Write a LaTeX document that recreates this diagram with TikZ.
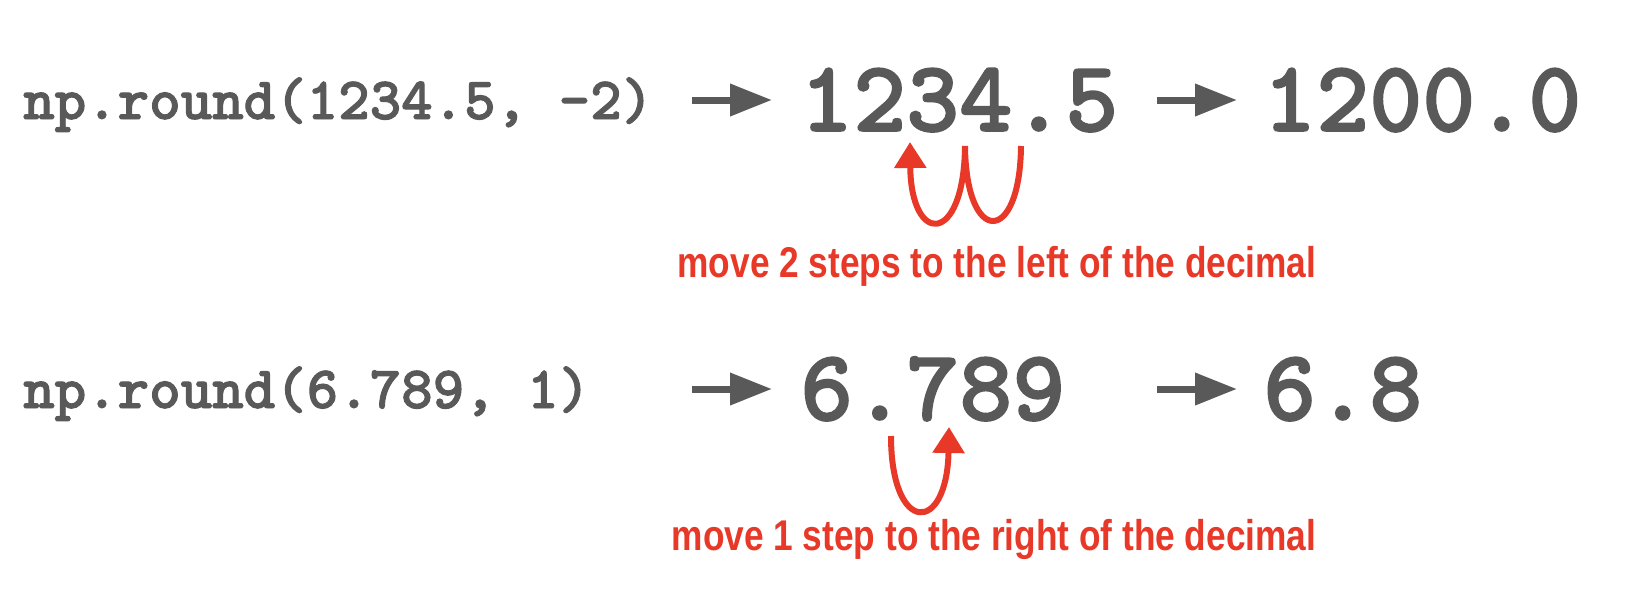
\documentclass[tikz,border=0pt]{standalone}
\usepackage{fontspec}
\usetikzlibrary{arrows.meta}
\newfontfamily\redfont{Liberation Sans}[FakeStretch=0.82]
\newfontfamily\codefont{lmmonolt10-bold.otf}[FakeBold=1.6]
\definecolor{txtgray}{RGB}{89,89,89}
\definecolor{redc}{RGB}{232,56,40}
\begin{document}
\begin{tikzpicture}[x=1pt,y=-1pt,
  code/.style={anchor=base west, inner sep=0pt, text=txtgray, font=\fontsize{60}{60}\selectfont\codefont},
  big/.style={anchor=base west, inner sep=0pt, text=txtgray, font=\fontsize{101}{101}\selectfont\codefont},
  note/.style={anchor=base, inner sep=0pt, text=redc, font=\fontsize{43}{43}\selectfont\redfont\bfseries},
  grayarrow/.style={draw=txtgray, line width=7pt, -{Triangle[length=42pt,width=31pt]}},
  redarrow/.style={draw=redc, line width=6pt, -{Triangle[length=26pt,width=31pt]}},
]
\useasboundingbox (0,0) rectangle (1626,608);
% row 1
\node[code] (c1) at (23,119) {np.round(1234.5, -2)};
\node[big] (n1) at (800,131) {1234.5};
\node[big] (r1) at (1263,131) {1200.0};
\coordinate (a1s) at (692,100);
\coordinate (a1e) at (772,100);
\coordinate (a2s) at (1157,100);
\coordinate (a2e) at (1237,100);
\draw[grayarrow] (a1s) -- (a1e);
\draw[grayarrow] (a2s) -- (a2e);
\coordinate (w1) at (1021,146);
\coordinate (w3) at (965,146);
\coordinate (w5) at (910,142);
\draw[redarrow] (w1) .. controls (1020,246) and (966,246) .. (w3)
  .. controls (964,246) and (911,246) .. (w5);
\node[note] (t1) at (997,277) {move 2 steps to the left of the decimal};
% row 2
\node[code] (c2) at (23,408) {np.round(6.789, 1)};
\node[big] (n2) at (800,420) {6.789};
\node[big] (r2) at (1263,420) {6.8};
\coordinate (a3s) at (692,389);
\coordinate (a3e) at (772,389);
\coordinate (a4s) at (1157,389);
\coordinate (a4e) at (1237,389);
\draw[grayarrow] (a3s) -- (a3e);
\draw[grayarrow] (a4s) -- (a4e);
\coordinate (u1) at (891,436);
\coordinate (u3) at (949,427);
\draw[redarrow] (u1) .. controls (891,535) and (947,535) .. (u3);
\node[note] (t2) at (994,550) {move 1 step to the right of the decimal};
\end{tikzpicture}
\end{document}
